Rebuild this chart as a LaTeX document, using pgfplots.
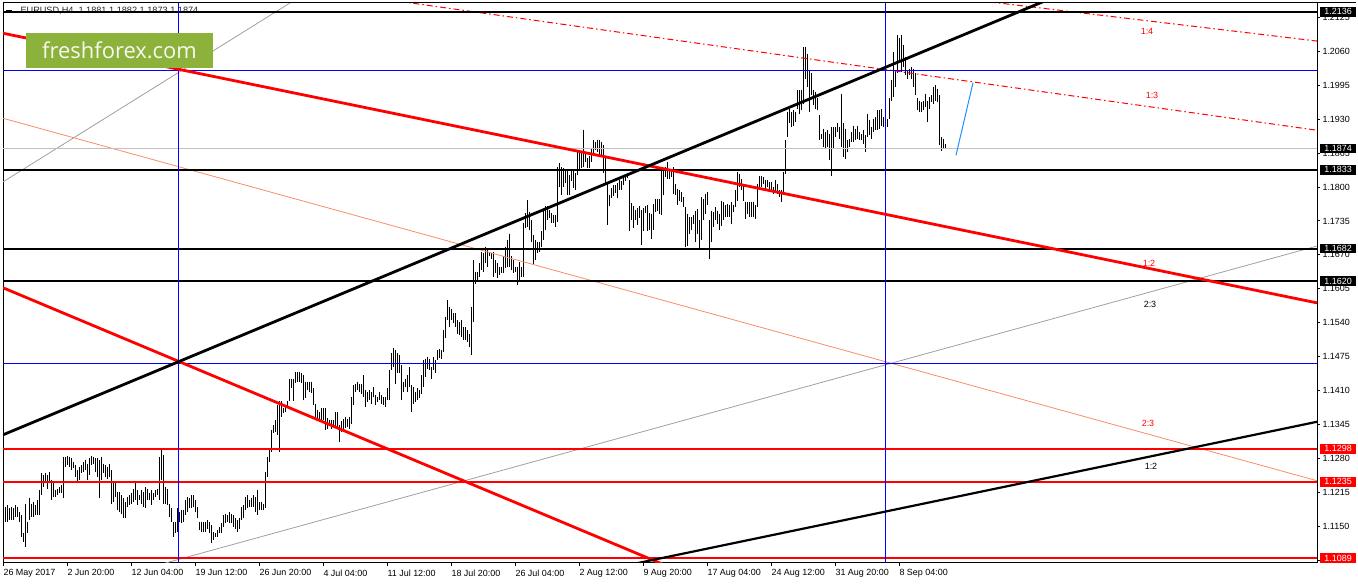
\documentclass[border=0pt]{standalone}
\usepackage{fontspec}
\setmainfont{Liberation Sans}
\newfontfamily\logofont{Open Sans}
\usepackage{pgfplots}
\usepackage{pgfplotstable}
\pgfplotsset{compat=1.18}

\definecolor{mtred}{RGB}{255,0,0}
\definecolor{mtblue}{RGB}{0,0,255}
\definecolor{fansalmon}{RGB}{250,140,105}
\definecolor{fangray}{RGB}{160,160,160}
\definecolor{lvlgray}{RGB}{192,192,192}
\definecolor{ffgreen}{RGB}{141,178,60}
\definecolor{fcblue}{RGB}{30,144,255}

% EURUSD H4 bars: x = chart position, h = high, l = low
\pgfplotstableread{
x h l
3 1.1229 1.1174
5 1.1187 1.1158
7 1.1190 1.1158
9 1.1184 1.1161
11 1.1187 1.1161
13 1.1184 1.1161
15 1.1190 1.1168
17 1.1187 1.1168
19 1.1177 1.1158
21 1.1171 1.1129
23 1.1136 1.1120
25 1.1193 1.1110
27 1.1158 1.1136
29 1.1203 1.1161
31 1.1193 1.1168
33 1.1197 1.1168
35 1.1190 1.1171
37 1.1200 1.1171
39 1.1219 1.1171
41 1.1251 1.1209
43 1.1248 1.1225
45 1.1251 1.1232
47 1.1248 1.1222
49 1.1254 1.1232
51 1.1238 1.1200
53 1.1235 1.1206
55 1.1219 1.1206
57 1.1222 1.1209
59 1.1225 1.1213
61 1.1229 1.1213
63 1.1283 1.1203
65 1.1283 1.1264
67 1.1284 1.1267
69 1.1283 1.1264
71 1.1280 1.1257
73 1.1273 1.1261
75 1.1267 1.1245
77 1.1257 1.1232
79 1.1264 1.1238
81 1.1267 1.1251
83 1.1273 1.1254
85 1.1277 1.1257
87 1.1270 1.1238
89 1.1280 1.1248
91 1.1284 1.1267
93 1.1283 1.1270
95 1.1280 1.1254
97 1.1280 1.1245
99 1.1277 1.1203
101 1.1283 1.1238
103 1.1270 1.1251
105 1.1267 1.1245
107 1.1264 1.1241
109 1.1270 1.1245
111 1.1257 1.1193
113 1.1235 1.1197
115 1.1232 1.1206
117 1.1216 1.1181
119 1.1216 1.1177
121 1.1209 1.1174
123 1.1203 1.1165
125 1.1197 1.1165
127 1.1206 1.1187
129 1.1209 1.1190
131 1.1213 1.1193
133 1.1222 1.1197
135 1.1232 1.1200
137 1.1219 1.1190
139 1.1209 1.1200
141 1.1219 1.1193
143 1.1216 1.1187
145 1.1225 1.1184
147 1.1222 1.1200
149 1.1213 1.1200
151 1.1219 1.1190
153 1.1213 1.1200
155 1.1219 1.1206
157 1.1222 1.1209
159 1.1283 1.1200
161 1.1296 1.1238
163 1.1286 1.1193
165 1.1225 1.1193
167 1.1222 1.1190
169 1.1193 1.1168
171 1.1184 1.1158
173 1.1158 1.1129
175 1.1158 1.1136
177 1.1184 1.1139
179 1.1177 1.1158
181 1.1181 1.1155
183 1.1181 1.1158
185 1.1200 1.1171
187 1.1206 1.1177
189 1.1203 1.1184
191 1.1209 1.1184
193 1.1209 1.1187
195 1.1200 1.1177
197 1.1187 1.1165
199 1.1158 1.1142
201 1.1158 1.1139
203 1.1158 1.1139
205 1.1158 1.1139
207 1.1161 1.1145
209 1.1158 1.1136
211 1.1152 1.1117
213 1.1139 1.1123
215 1.1136 1.1129
217 1.1142 1.1129
219 1.1149 1.1136
221 1.1155 1.1136
223 1.1171 1.1149
225 1.1174 1.1155
227 1.1171 1.1158
229 1.1177 1.1155
231 1.1174 1.1155
233 1.1171 1.1149
235 1.1165 1.1145
237 1.1161 1.1139
239 1.1165 1.1145
241 1.1187 1.1161
243 1.1190 1.1165
245 1.1206 1.1181
247 1.1209 1.1184
249 1.1200 1.1187
251 1.1203 1.1187
253 1.1209 1.1187
255 1.1206 1.1177
257 1.1219 1.1171
259 1.1197 1.1181
261 1.1197 1.1181
263 1.1193 1.1181
265 1.1254 1.1184
267 1.1283 1.1245
269 1.1296 1.1273
271 1.1334 1.1293
273 1.1344 1.1328
275 1.1353 1.1331
277 1.1382 1.1325
279 1.1389 1.1293
281 1.1389 1.1360
283 1.1376 1.1366
285 1.1382 1.1369
287 1.1389 1.1379
289 1.1433 1.1389
291 1.1433 1.1414
293 1.1433 1.1389
295 1.1446 1.1424
297 1.1446 1.1427
299 1.1446 1.1427
301 1.1443 1.1424
303 1.1440 1.1392
305 1.1427 1.1395
307 1.1427 1.1411
309 1.1427 1.1408
311 1.1427 1.1405
313 1.1414 1.1382
315 1.1385 1.1353
317 1.1373 1.1357
319 1.1369 1.1353
321 1.1376 1.1350
323 1.1376 1.1353
325 1.1376 1.1334
327 1.1357 1.1337
329 1.1353 1.1341
331 1.1353 1.1337
333 1.1353 1.1344
335 1.1369 1.1341
337 1.1369 1.1337
339 1.1344 1.1312
341 1.1352 1.1330
343 1.1356 1.1335
345 1.1360 1.1338
347 1.1356 1.1340
349 1.1359 1.1336
351 1.1398 1.1345
353 1.1420 1.1382
355 1.1423 1.1407
357 1.1427 1.1411
359 1.1423 1.1407
361 1.1423 1.1404
363 1.1439 1.1398
365 1.1411 1.1379
367 1.1407 1.1388
369 1.1411 1.1391
371 1.1407 1.1385
373 1.1417 1.1398
375 1.1401 1.1382
377 1.1398 1.1388
379 1.1407 1.1391
381 1.1401 1.1385
383 1.1398 1.1382
385 1.1398 1.1379
387 1.1414 1.1391
389 1.1449 1.1391
391 1.1481 1.1449
393 1.1491 1.1455
395 1.1487 1.1423
397 1.1481 1.1443
399 1.1478 1.1443
401 1.1459 1.1391
403 1.1427 1.1407
405 1.1433 1.1417
407 1.1439 1.1407
409 1.1455 1.1417
411 1.1420 1.1369
413 1.1417 1.1385
415 1.1407 1.1388
417 1.1414 1.1391
419 1.1411 1.1395
421 1.1439 1.1404
423 1.1468 1.1417
425 1.1471 1.1436
427 1.1475 1.1452
429 1.1471 1.1449
431 1.1455 1.1433
433 1.1475 1.1449
435 1.1468 1.1443
437 1.1487 1.1468
439 1.1489 1.1473
441 1.1487 1.1471
443 1.1526 1.1484
445 1.1551 1.1510
447 1.1583 1.1545
449 1.1571 1.1532
451 1.1567 1.1545
453 1.1558 1.1539
455 1.1558 1.1532
457 1.1545 1.1519
459 1.1542 1.1516
461 1.1545 1.1513
463 1.1532 1.1507
465 1.1532 1.1507
467 1.1526 1.1503
469 1.1519 1.1494
471 1.1571 1.1478
473 1.1660 1.1542
475 1.1638 1.1615
477 1.1638 1.1622
479 1.1654 1.1628
481 1.1676 1.1641
483 1.1673 1.1638
485 1.1686 1.1654
487 1.1683 1.1647
489 1.1676 1.1667
491 1.1673 1.1663
493 1.1676 1.1628
495 1.1660 1.1635
497 1.1654 1.1625
499 1.1647 1.1631
501 1.1647 1.1635
503 1.1667 1.1635
505 1.1686 1.1644
507 1.1699 1.1647
509 1.1711 1.1647
511 1.1667 1.1641
513 1.1660 1.1635
515 1.1647 1.1638
517 1.1647 1.1612
519 1.1657 1.1619
521 1.1647 1.1628
523 1.1731 1.1628
525 1.1750 1.1721
527 1.1775 1.1724
529 1.1753 1.1718
531 1.1737 1.1695
533 1.1708 1.1651
535 1.1699 1.1660
537 1.1695 1.1673
539 1.1695 1.1676
541 1.1715 1.1686
543 1.1756 1.1699
545 1.1763 1.1718
547 1.1763 1.1737
549 1.1756 1.1740
551 1.1750 1.1731
553 1.1747 1.1731
555 1.1747 1.1724
557 1.1839 1.1734
559 1.1846 1.1801
561 1.1839 1.1785
563 1.1836 1.1801
565 1.1833 1.1807
567 1.1833 1.1785
569 1.1823 1.1785
571 1.1833 1.1811
573 1.1833 1.1798
575 1.1827 1.1795
577 1.1868 1.1823
579 1.1871 1.1833
581 1.1865 1.1836
583 1.1910 1.1839
585 1.1865 1.1849
587 1.1855 1.1836
589 1.1859 1.1836
591 1.1875 1.1849
593 1.1891 1.1862
595 1.1887 1.1871
597 1.1891 1.1868
599 1.1891 1.1859
601 1.1887 1.1859
603 1.1881 1.1827
605 1.1855 1.1807
607 1.1807 1.1727
609 1.1785 1.1763
611 1.1798 1.1779
613 1.1804 1.1782
615 1.1804 1.1788
617 1.1807 1.1779
619 1.1814 1.1795
621 1.1811 1.1795
623 1.1820 1.1804
625 1.1820 1.1811
627 1.1827 1.1817
629 1.1814 1.1715
631 1.1769 1.1737
633 1.1763 1.1721
635 1.1756 1.1737
637 1.1759 1.1727
639 1.1763 1.1740
641 1.1756 1.1689
643 1.1759 1.1715
645 1.1763 1.1750
647 1.1766 1.1715
649 1.1750 1.1718
651 1.1749 1.1701
653 1.1768 1.1717
655 1.1778 1.1752
657 1.1778 1.1755
659 1.1778 1.1749
661 1.1835 1.1746
663 1.1835 1.1784
665 1.1838 1.1819
667 1.1848 1.1816
669 1.1832 1.1816
671 1.1832 1.1819
673 1.1838 1.1787
675 1.1806 1.1784
677 1.1797 1.1765
679 1.1794 1.1774
681 1.1790 1.1771
683 1.1781 1.1762
685 1.1762 1.1685
687 1.1749 1.1688
689 1.1742 1.1710
691 1.1742 1.1717
693 1.1746 1.1730
695 1.1755 1.1694
697 1.1758 1.1710
699 1.1736 1.1682
701 1.1781 1.1698
703 1.1778 1.1736
705 1.1787 1.1749
707 1.1790 1.1765
709 1.1736 1.1662
711 1.1755 1.1694
713 1.1752 1.1723
715 1.1762 1.1736
717 1.1755 1.1730
719 1.1749 1.1717
721 1.1774 1.1726
723 1.1771 1.1736
725 1.1765 1.1742
727 1.1768 1.1742
729 1.1765 1.1742
731 1.1771 1.1730
733 1.1765 1.1752
735 1.1794 1.1762
737 1.1829 1.1774
739 1.1826 1.1800
741 1.1816 1.1794
743 1.1803 1.1774
745 1.1771 1.1739
747 1.1771 1.1749
749 1.1771 1.1742
751 1.1771 1.1742
753 1.1771 1.1742
755 1.1765 1.1739
757 1.1806 1.1762
759 1.1822 1.1800
761 1.1822 1.1800
763 1.1819 1.1806
765 1.1813 1.1794
767 1.1813 1.1800
769 1.1810 1.1794
771 1.1810 1.1794
773 1.1800 1.1787
775 1.1813 1.1790
777 1.1806 1.1787
779 1.1794 1.1781
781 1.1794 1.1771
783 1.1829 1.1784
785 1.1890 1.1826
787 1.1944 1.1896
789 1.1950 1.1922
791 1.1944 1.1915
793 1.1947 1.1918
795 1.1944 1.1925
797 1.1986 1.1950
799 1.1986 1.1941
801 1.1986 1.1947
803 1.2069 1.1960
805 1.2069 1.2008
807 1.2056 1.1992
809 1.2024 1.1944
811 1.2018 1.1976
813 1.1986 1.1957
815 1.1982 1.1950
817 1.1970 1.1947
819 1.1938 1.1890
821 1.1902 1.1893
823 1.1912 1.1877
825 1.1906 1.1874
827 1.1909 1.1877
829 1.1902 1.1851
831 1.1915 1.1822
833 1.1915 1.1874
835 1.1915 1.1896
837 1.1922 1.1906
839 1.1915 1.1893
841 1.1979 1.1877
843 1.1922 1.1858
845 1.1912 1.1854
847 1.1890 1.1867
849 1.1893 1.1877
851 1.1906 1.1886
853 1.1918 1.1886
855 1.1912 1.1890
857 1.1918 1.1893
859 1.1906 1.1890
861 1.1902 1.1890
863 1.1909 1.1883
865 1.1899 1.1867
867 1.1941 1.1896
869 1.1928 1.1899
871 1.1915 1.1893
873 1.1931 1.1906
875 1.1934 1.1909
877 1.1947 1.1909
879 1.1947 1.1912
881 1.1950 1.1918
883 1.1934 1.1915
885 1.1928 1.1922
887 1.1931 1.1915
889 1.1970 1.1931
891 1.2005 1.1966
893 1.2059 1.1973
895 1.2024 1.1992
897 1.2091 1.2018
899 1.2085 1.2037
901 1.2091 1.2021
903 1.2072 1.2030
905 1.2050 1.2014
907 1.2024 1.2008
909 1.2027 1.2014
911 1.2030 1.2008
913 1.2027 1.1992
915 1.2018 1.1976
917 1.1970 1.1947
919 1.1966 1.1944
921 1.1963 1.1944
923 1.1966 1.1947
925 1.1979 1.1954
927 1.1966 1.1925
929 1.1973 1.1950
931 1.1976 1.1963
933 1.1992 1.1960
935 1.1995 1.1966
937 1.1989 1.1963
939 1.1976 1.1880
941 1.1896 1.1870
943 1.1893 1.1874
945 1.1883 1.1874
}\bars

\begin{document}
\begin{tikzpicture}
\begin{axis}[
    at={(3bp,21bp)}, anchor=south west,
    scale only axis, width=1314bp, height=560bp,
    xmin=3, xmax=1317, ymin=1.107925, ymax=1.215299,
    axis line style={black, line width=1bp},
    xtick pos=bottom, ytick pos=right, yticklabel pos=right,
    tick align=outside, major tick length=3bp,
    tick style={black, line width=1bp},
    xtick={3,67,131,195,259,323,387,451,515,579,643,707,771,835,899},
    xticklabels={26 May 2017,2 Jun 20:00,12 Jun 04:00,19 Jun 12:00,26 Jun 20:00,4 Jul 04:00,11 Jul 12:00,18 Jul 20:00,26 Jul 04:00,2 Aug 12:00,9 Aug 20:00,17 Aug 04:00,24 Aug 12:00,31 Aug 20:00,8 Sep 04:00},
    ytick={1.1085,1.1150,1.1215,1.1280,1.1345,1.1410,1.1475,1.1540,1.1605,1.1670,1.1735,1.1800,1.1865,1.1930,1.1995,1.2060,1.2125},
    /pgf/number format/assume math mode=true,
    yticklabel style={anchor=west, xshift=-1bp, font=\fontsize{9}{10}\selectfont,
        /pgf/number format/.cd, fixed, fixed zerofill, precision=4},
    xticklabel style={anchor=north west, xshift=-3bp, font=\fontsize{9}{10}\selectfont},
    scaled y ticks=false,
]
% header
\node[anchor=west, font=\fontsize{9.2}{10}\selectfont, text=black!85] at (axis cs:17,1.2138) {EURUSD,H4\ \ 1.1881 1.1882 1.1873 1.1874};
\addplot[black, line width=2bp, forget plot] coordinates {(6,1.2138) (12,1.2138)};

% price bars (high to low)
\addplot[draw=none, no markers, error bars/.cd, y dir=minus, y explicit, error mark=none,
    error bar style={draw=black, line width=1bp}]
    table[x=x, y=h, y error expr=\thisrow{h}-\thisrow{l}] {\bars};

% thin fan lines
\addplot[fangray, line width=0.8bp] coordinates {(3,1.1810) (300,1.2165)};
\addplot[fangray, line width=0.8bp] coordinates {(150,1.1071) (1317,1.1687)};
\addplot[fansalmon, line width=0.8bp] coordinates {(3,1.1932) (1317,1.1237)};
\addplot[mtred, line width=1bp, dash pattern=on 6bp off 3bp on 1.5bp off 3bp] coordinates {(400,1.2156) (1317,1.1909)};
\addplot[mtred, line width=1bp, dash pattern=on 6bp off 3bp on 1.5bp off 3bp] coordinates {(990,1.2155) (1317,1.2080)};

% horizontal levels
\addplot[lvlgray, line width=1bp] coordinates {(3,1.1874) (1317,1.1874)};
\addplot[mtblue, line width=1bp] coordinates {(3,1.2024) (1317,1.2024)};
\addplot[mtblue, line width=1bp] coordinates {(3,1.1462) (1317,1.1462)};
\addplot[black, line width=2.2bp] coordinates {(3,1.2136) (1317,1.2136)};
\addplot[black, line width=2.2bp] coordinates {(3,1.1833) (1317,1.1833)};
\addplot[black, line width=2.2bp] coordinates {(3,1.1682) (1317,1.1682)};
\addplot[black, line width=2.2bp] coordinates {(3,1.1620) (1317,1.1620)};
\addplot[mtred, line width=2.2bp] coordinates {(3,1.1298) (1317,1.1298)};
\addplot[mtred, line width=2.2bp] coordinates {(3,1.1235) (1317,1.1235)};
\addplot[mtred, line width=2.2bp] coordinates {(3,1.1089) (1317,1.1089)};

% vertical markers
\addplot[mtblue, line width=1bp] coordinates {(178,1.10) (178,1.22)};
\addplot[mtblue, line width=1bp] coordinates {(885,1.10) (885,1.22)};

% thick trend lines
\addplot[mtred, line width=2.8bp] coordinates {(3,1.2095) (1317,1.1578)};
\addplot[mtred, line width=2.8bp] coordinates {(3,1.1607) (680,1.1063)};
\addplot[black, line width=2.8bp] coordinates {(3,1.1325) (1060,1.2169)};
\addplot[black, line width=2.2bp] coordinates {(620,1.1072) (1317,1.1350)};

% projected move
\addplot[fcblue, line width=1bp] coordinates {(956,1.1861) (973,1.2000)};

% fan labels
\node[text=mtred, font=\fontsize{9}{10}\selectfont] at (axis cs:1147,1.2099) {1:4};
\node[text=mtred, font=\fontsize{9}{10}\selectfont] at (axis cs:1152,1.1975) {1:3};
\node[text=mtred, font=\fontsize{9}{10}\selectfont] at (axis cs:1149,1.1653) {1:2};
\node[text=black, font=\fontsize{9}{10}\selectfont] at (axis cs:1150,1.1576) {2:3};
\node[text=mtred, font=\fontsize{9}{10}\selectfont] at (axis cs:1148,1.1346) {2:3};
\node[text=black, font=\fontsize{9}{10}\selectfont] at (axis cs:1151,1.1265) {1:2};

\coordinate (k1) at (axis cs:1317,1.2136);
\coordinate (k2) at (axis cs:1317,1.1874);
\coordinate (k3) at (axis cs:1317,1.1833);
\coordinate (k4) at (axis cs:1317,1.1682);
\coordinate (k5) at (axis cs:1317,1.1620);
\coordinate (r1) at (axis cs:1317,1.1298);
\coordinate (r2) at (axis cs:1317,1.1235);
\coordinate (r3) at (axis cs:1317,1.1089);
\end{axis}

% price boxes on the scale
\tikzset{pbox/.style={anchor=west, inner xsep=2.5bp, inner ysep=1.6bp, text=white,
    font=\fontsize{9}{10}\selectfont, minimum width=36bp, xshift=3bp}}
\node[pbox, fill=black] at (k1) {1.2136};
\node[pbox, fill=black] at (k2) {1.1874};
\node[pbox, fill=black] at (k3) {1.1833};
\node[pbox, fill=black] at (k4) {1.1682};
\node[pbox, fill=black] at (k5) {1.1620};
\node[pbox, fill=mtred] at (r1) {1.1298};
\node[pbox, fill=mtred] at (r2) {1.1235};
\node[pbox, fill=mtred] at (r3) {1.1089};

% logo
\node[fill=ffgreen, text=white!92!ffgreen, font=\logofont\fontsize{22}{24}\selectfont,
    minimum width=187bp, minimum height=35bp, inner sep=0pt] at (119.5bp,533.5bp) {freshforex.com};

\draw[black, line width=1bp] (3bp,581bp) -- (1356bp,581bp);
\pgfresetboundingbox
\useasboundingbox (0,0) rectangle (1358bp,584bp);
\end{tikzpicture}
\end{document}
